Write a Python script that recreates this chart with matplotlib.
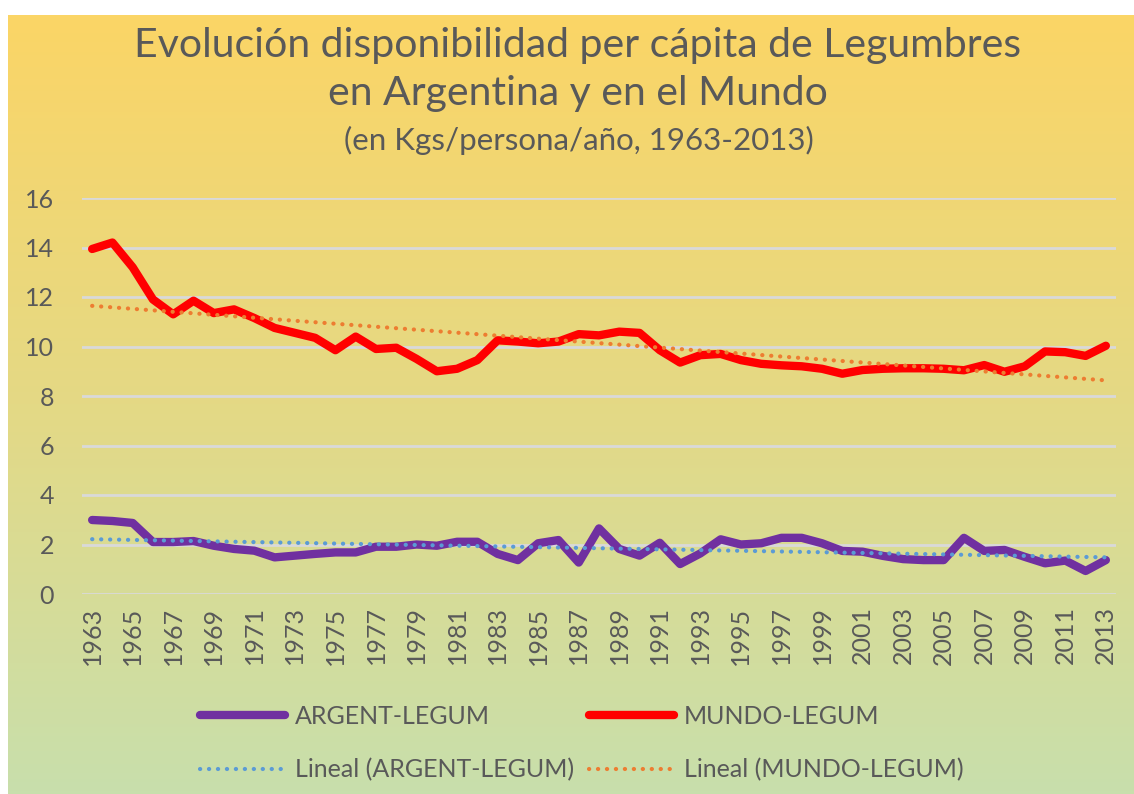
import numpy as np
import matplotlib
matplotlib.use("Agg")
import matplotlib.pyplot as plt
from matplotlib.colors import LinearSegmentedColormap

years = list(range(1963, 2014))
argent_legum = [2.99, 2.95, 2.87, 2.10, 2.10, 2.14, 1.95, 1.82, 1.75, 1.48,
                1.55, 1.62, 1.68, 1.68, 1.91, 1.91, 2.00, 1.95, 2.11, 2.11,
                1.62, 1.37, 2.05, 2.18, 1.27, 2.65, 1.82, 1.55, 2.07, 1.21,
                1.64, 2.21, 2.00, 2.05, 2.27, 2.27, 2.05, 1.74, 1.71, 1.54,
                1.41, 1.37, 1.37, 2.27, 1.74, 1.78, 1.50, 1.24, 1.35, 0.93,
                1.37]
mundo_legum = [13.94, 14.20, 13.20, 11.90, 11.30, 11.85, 11.35, 11.50, 11.15, 10.75,
               10.55, 10.35, 9.85, 10.40, 9.90, 9.95, 9.50, 9.00, 9.10, 9.45,
               10.25, 10.20, 10.13, 10.20, 10.50, 10.45, 10.60, 10.55, 9.85, 9.35,
               9.65, 9.70, 9.45, 9.30, 9.24, 9.20, 9.10, 8.90, 9.05, 9.10,
               9.12, 9.12, 9.10, 9.04, 9.25, 8.98, 9.20, 9.80, 9.77, 9.62,
               10.03]
series_labels = ["ARGENT-LEGUM", "MUNDO-LEGUM"]
trend_labels = ["Lineal (ARGENT-LEGUM)", "Lineal (MUNDO-LEGUM)"]
title_lines = ["Evolución disponibilidad per cápita de Legumbres",
               "en Argentina y en el Mundo"]
subtitle = "(en Kgs/persona/año, 1963-2013)"
yticks = [0, 2, 4, 6, 8, 10, 12, 14, 16]

FONT = ["Lato", "DejaVu Sans"]
plt.rcParams['font.family'] = FONT
TXT = "#595959"

W, H = 1134, 794
fig = plt.figure(figsize=(W / 100, H / 100), dpi=100)
fig.patch.set_facecolor("white")

# background gradient
bg = fig.add_axes([8 / W, 0, 1 - 8 / W, (H - 15) / H], zorder=-10)
cmap = LinearSegmentedColormap.from_list(
    "bg", [(0.0, "#FBD566"), (0.5, "#E4D985"), (1.0, "#C8DFAC")])
grad = np.linspace(0, 1, 256).reshape(-1, 1)
bg.imshow(grad, aspect="auto", cmap=cmap, extent=[0, 1, 1, 0])
bg.set_axis_off()

ax = fig.add_axes([82 / W, (H - 594) / H, (1116 - 82) / W, (594 - 198) / H])
ax.set_facecolor("none")
x = np.arange(len(years))

l_arg, = ax.plot(x, argent_legum, color="#7030A0", lw=6, solid_capstyle="round",
                 solid_joinstyle="round", label=series_labels[0], zorder=4)
l_mun, = ax.plot(x, mundo_legum, color="#FF0000", lw=6, solid_capstyle="round",
                 solid_joinstyle="round", label=series_labels[1], zorder=4)

ca = np.polyfit(x, argent_legum, 1)
cm = np.polyfit(x, mundo_legum, 1)
dot = (0, (0.05, 2.1))
t_arg, = ax.plot(x, np.polyval(ca, x), color="#5B9BD5", lw=3,
                 linestyle=dot, dash_capstyle="round",
                 label=trend_labels[0], zorder=5)
t_mun, = ax.plot(x, np.polyval(cm, x), color="#ED7D31", lw=3,
                 linestyle=dot, dash_capstyle="round",
                 label=trend_labels[1], zorder=5)

ax.set_ylim(0, 16)
ax.set_xlim(-0.5, len(years) - 0.5)
ax.set_yticks(yticks)
ax.set_yticklabels([str(v) for v in yticks])
ax.set_xticks(x[::2])
ax.set_xticklabels([str(y) for y in years[::2]], rotation=90)
ax.grid(axis="y", color="#D9D9D9", lw=2)
ax.set_axisbelow(True)
for s in ax.spines.values():
    s.set_visible(False)
ax.tick_params(axis="both", length=0, labelsize=18, colors=TXT)
ax.tick_params(axis="y", pad=20)
ax.tick_params(axis="x", pad=9)

fig.text(578 / W, 1 - 45 / H, title_lines[0], ha="center", va="center",
         fontsize=29.5, color=TXT)
fig.text(578 / W, 1 - 93 / H, title_lines[1], ha="center", va="center",
         fontsize=29.5, color=TXT)
fig.text(579 / W, 1 - 140 / H, subtitle, ha="center", va="center",
         fontsize=22.5, color=TXT)

leg = fig.legend([l_arg, t_arg, l_mun, t_mun],
                 [series_labels[0], trend_labels[0], series_labels[1], trend_labels[1]],
                 ncol=2, loc="upper left", bbox_to_anchor=(200 / W, 1 - 705 / H),
                 frameon=False, fontsize=18, handlelength=3.4, handletextpad=0.4,
                 columnspacing=0.6, labelspacing=1.2, borderpad=0, borderaxespad=0)
for t in leg.get_texts():
    t.set_color(TXT)

fig.savefig("out.png", dpi=100)
